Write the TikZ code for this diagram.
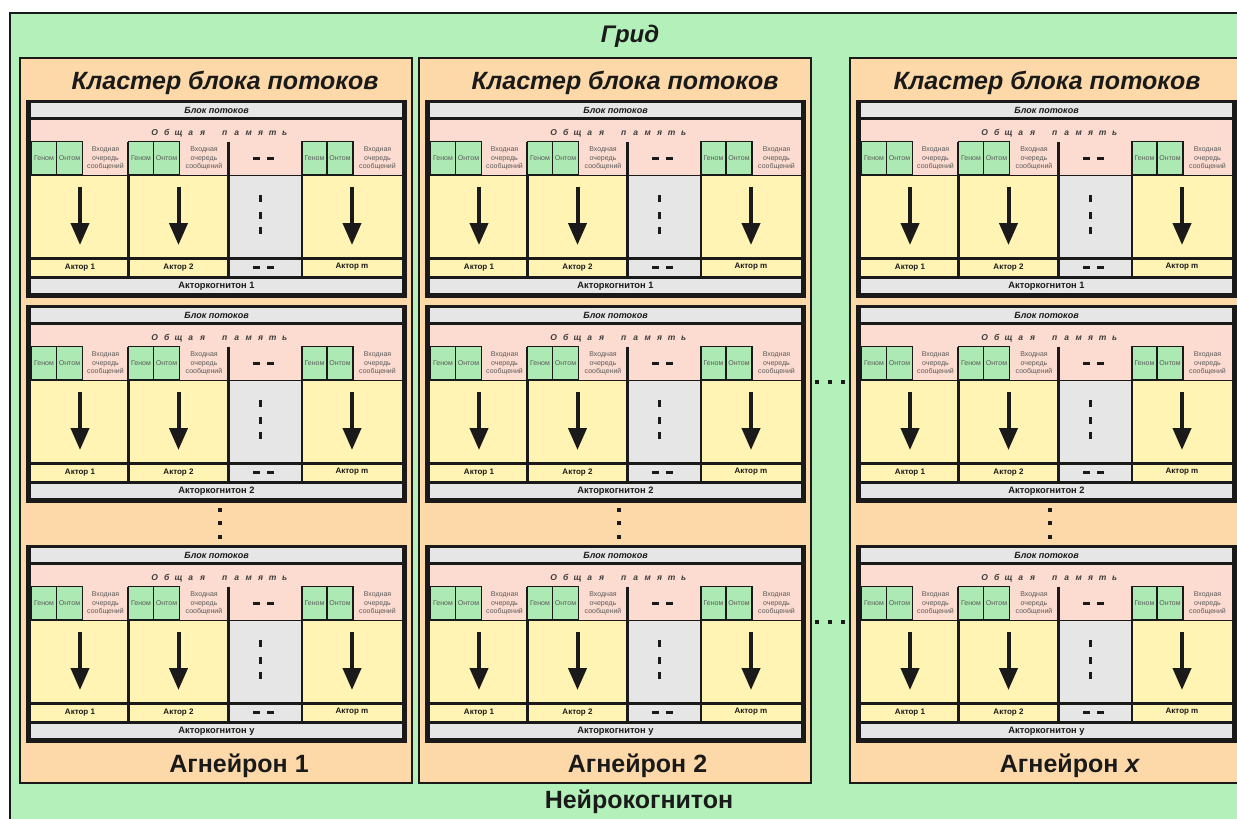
\documentclass[tikz,border=0pt]{standalone}
\usepackage{fontspec}
\setmainfont{Liberation Sans}
\usetikzlibrary{arrows.meta}
\definecolor{gridgreen}{HTML}{B4F0B9}
\definecolor{clorange}{HTML}{FDD8A8}
\definecolor{mempink}{HTML}{FCDBD0}
\definecolor{boxgreen}{HTML}{ADE9B3}
\definecolor{actyellow}{HTML}{FFF4B4}
\definecolor{lgray}{HTML}{E6E6E6}
\definecolor{ink}{HTML}{1A1A1A}
\definecolor{softink}{HTML}{5A5A5A}
\newcommand\fs[1]{\fontsize{#1}{#1}\selectfont}
\newcommand\memch[1]{\makebox[12pt]{#1}}
\newcommand\memtext{\memch{О}\memch{б}\memch{щ}\memch{а}\memch{я}\hspace{10pt}\memch{п}\memch{а}\memch{м}\memch{я}\memch{т}\memch{ь}}
\tikzset{
  bigtitle/.style={inner sep=0pt, anchor=base, text=ink, font={\bfseries\itshape\fs{25}}},
  gridtitle/.style={inner sep=0pt, anchor=base, text=ink, font={\bfseries\itshape\fs{24}}},
  agtitle/.style={inner sep=0pt, anchor=base, text=ink, font={\bfseries\fs{25}}},
  hdrtext/.style={inner sep=0pt, text=ink, font={\bfseries\itshape\fs{9}}},
  memlabel/.style={inner sep=0pt, text=ink!85, font={\bfseries\itshape\fs{8.5}}},
  actlabel/.style={inner sep=0pt, text=ink, font={\bfseries\fs{8}}},
  kogtext/.style={inner sep=0pt, text=ink, font={\bfseries\fs{9.3}}},
  qtext/.style={inner sep=0pt, text=softink, align=center, font={\fontsize{7}{8.3}\selectfont}},
  gbox/.style={draw=ink, line width=1.3pt, fill=boxgreen, inner sep=0pt, outer sep=0pt,
     minimum width=25pt, minimum height=33.5pt, anchor=north west, text=softink, font={\fs{7}}},
  flowarrow/.style={draw=ink, line width=4pt, -{Triangle[width=18pt,length=22pt]}},
  colsep/.style={draw=ink, line width=2.5pt},
  clusterbox/.style={fill=clorange, draw=ink, line width=2pt},
}
\newcommand\tblock[4]{%
\begin{scope}[shift={(#1,#2)}]
  \fill[ink] (0,0) rectangle (381,198);
  \fill[lgray] (5,3) rectangle (376,17);
  \node[hdrtext] (#3h) at (190.5,10.5) {Блок потоков};
  \fill[mempink] (5,19.5) rectangle (376,75);
  \fill[actyellow] (5,75) rectangle (376,157);
  \fill[lgray] (202.5,75) rectangle (276,157);
  \draw[ink, line width=0.8pt] (5,75) -- (376,75);
  \fill[actyellow] (5,159.5) rectangle (376,176);
  \fill[lgray] (202.5,159.5) rectangle (276,176);
  \fill[lgray] (5,178.5) rectangle (376,193);
  \node[memlabel] (#3m) at (193.7,33) {\memtext};
  \node[kogtext] (#3k) at (190.5,185.8) {#4};
  \draw[colsep] (102.5,41.5) -- (102.5,176);
  \draw[colsep] (202.5,41.5) -- (202.5,176);
  \draw[colsep] (276,41.5) -- (276,176);
  \foreach \L/\R/\n/\i/\ay in {5.5/102.5/1/a/167.6, 102.5/202.5/2/b/167.6, 276/376/m/c/166.5}{
    \node[gbox] (#3\i g) at (\L,41.5) {Геном};
    \node[gbox, minimum width=26pt] (#3\i o) at (\L+25,41.5) {Онтом};
    \node[qtext] (#3\i q) at ({(\L+51+\R)/2},58.5) {Входная\\очередь\\сообщений};
    \coordinate (#3\i s) at ({(\L+\R)/2},86.7);
    \coordinate (#3\i e) at ({(\L+\R)/2},145);
    \draw[flowarrow] (#3\i s) -- (#3\i e);
    \node[actlabel] (#3\i act) at ({(\L+\R)/2},\ay) {Актор \n};
  }
  % dots column
  \fill[ink] (227,56.5) rectangle (234,59.8);
  \fill[ink] (241,56.5) rectangle (248,59.8);
  \fill[ink] (233.2,94.5) rectangle (236.4,101.5);
  \fill[ink] (233.2,111.5) rectangle (236.4,118.5);
  \fill[ink] (233.2,126.5) rectangle (236.4,133.5);
  \fill[ink] (227,166) rectangle (234,169.3);
  \fill[ink] (241,166) rectangle (248,169.3);
\end{scope}}
\begin{document}
\begin{tikzpicture}[x=1pt,y=-1pt]
\useasboundingbox (0,0) rectangle (1237,819);
\clip (0,0) rectangle (1237,819);
\fill[white] (0,0) rectangle (1237,819);
\draw[fill=gridgreen, draw=ink, line width=2pt] (10,12.5) rectangle (1260,840);
\node[gridtitle] (grid) at (630,42) {Грид};
\foreach \ox/\c/\tx/\ax/\an in {0/1/225/239/1, 399/2/625/637.5/2, 830/3/1047/1070/\textit{x}}{
  \draw[clusterbox] (20+\ox,58) rectangle (412+\ox,783);
  \node[bigtitle] (cl\c t) at (\tx,89) {Кластер блока потоков};
  \tblock{26+\ox}{100}{c\c b1}{Акторкогнитон 1}
  \tblock{26+\ox}{305}{c\c b2}{Акторкогнитон 2}
  \tblock{26+\ox}{545}{c\c b3}{Акторкогнитон y}
  \fill[ink] (218.3+\ox,508.3) rectangle +(3.5,3.5);
  \fill[ink] (218.3+\ox,521.3) rectangle +(3.5,3.5);
  \fill[ink] (218.3+\ox,535.3) rectangle +(3.5,3.5);
  \node[agtitle] (ag\c) at (\ax,772) {Агнейрон \an};
}
\foreach \yy in {382,622}{
  \foreach \xx in {817,830,843}{
    \fill[ink] (\xx-1.7,\yy-1.7) rectangle +(3.5,3.5);
  }
}
\node[agtitle] (neuro) at (639,808) {Нейрокогнитон};
\end{tikzpicture}
\end{document}
